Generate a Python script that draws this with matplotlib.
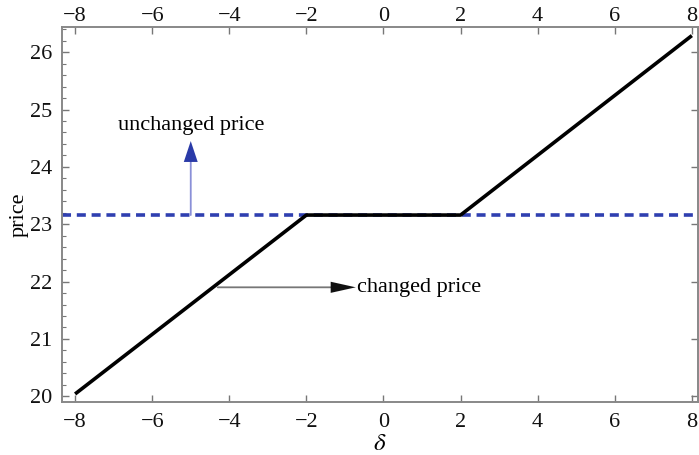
import numpy as np
import matplotlib
matplotlib.use("Agg")
import matplotlib.pyplot as plt
from matplotlib.ticker import MultipleLocator

# price as a function of delta (piecewise linear)
delta = [-8, -2, 2, 8]
price = [20.04, 23.16, 23.16, 26.29]
unchanged = 23.16

xticks = [-8, -6, -4, -2, 0, 2, 4, 6, 8]
yticks = [20, 21, 22, 23, 24, 25, 26]
xlabels = [str(t).replace('-', '\u2212') for t in xticks]

plt.rcParams['font.family'] = ['Liberation Serif', 'DejaVu Serif']
plt.rcParams['mathtext.fontset'] = 'stix'

fig = plt.figure(figsize=(6.99, 4.55), dpi=100)
ax = fig.add_axes([0.0887, 0.1165, 0.9099, 0.8242])

ax.axhline(unchanged, color='#2f3fb0', lw=2.6, ls=(0, (2.5, 1.6)), zorder=2)
ax.plot(delta, price, color='black', lw=2.6, zorder=3, solid_capstyle='butt')

# annotations: light shaft, dark head
up_style = '-|>,head_length=1.5,head_width=0.5'
ax.annotate('', xy=(-5.0, 24.1), xytext=(-5.0, unchanged),
            arrowprops=dict(arrowstyle='-', color='#8a90d8', lw=1.3,
                            shrinkA=0, shrinkB=0))
ax.annotate('', xy=(-5.0, 24.45), xytext=(-5.0, 24.05),
            arrowprops=dict(arrowstyle=up_style, color='#2a3aa8', lw=0.01,
                            shrinkA=0, shrinkB=0))
ax.text(-5.0, 24.72, 'unchanged price', ha='center', va='center', fontsize=16)

right_style = '-|>,head_length=1.8,head_width=0.4'
ax.annotate('', xy=(-1.3, 21.9), xytext=(-4.3, 21.9),
            arrowprops=dict(arrowstyle='-', color='#777777', lw=1.3,
                            shrinkA=0, shrinkB=0))
ax.annotate('', xy=(-0.72, 21.9), xytext=(-1.4, 21.9),
            arrowprops=dict(arrowstyle=right_style, color='#111111', lw=0.01,
                            shrinkA=0, shrinkB=0))
ax.text(-0.68, 21.9, 'changed price', ha='left', va='center', fontsize=16)

ax.set_xlim(-8.34, 8.16)
ax.set_ylim(19.9, 26.44)
ax.set_xticks(xticks)
ax.set_yticks(yticks)
ax.set_xticklabels(xlabels)
ax.yaxis.set_minor_locator(MultipleLocator(0.2))

ax.tick_params(axis='both', which='both', direction='in', colors='#777777',
               labelcolor='#111111', labelsize=16, top=True, right=True)
ax.tick_params(which='major', length=5, width=1)
ax.tick_params(which='minor', length=3, width=0.8)
ax.tick_params(axis='y', which='minor', right=False)
ax.tick_params(axis='x', pad=8)
ax.tick_params(axis='y', pad=7)

# top tick labels
top = ax.secondary_xaxis('top')
top.set_xticks(xticks)
top.set_xticklabels(xlabels)
top.tick_params(length=0, pad=1, labelsize=16, labelcolor='#111111')
top.spines['top'].set_visible(False)

for s in ax.spines.values():
    s.set_color('#888888')
    s.set_linewidth(1.4)

ax.set_xlabel(r'$\delta$', fontsize=18, labelpad=1)
ax.set_ylabel('price', fontsize=16, labelpad=1)

fig.savefig('out.png', dpi=100)
